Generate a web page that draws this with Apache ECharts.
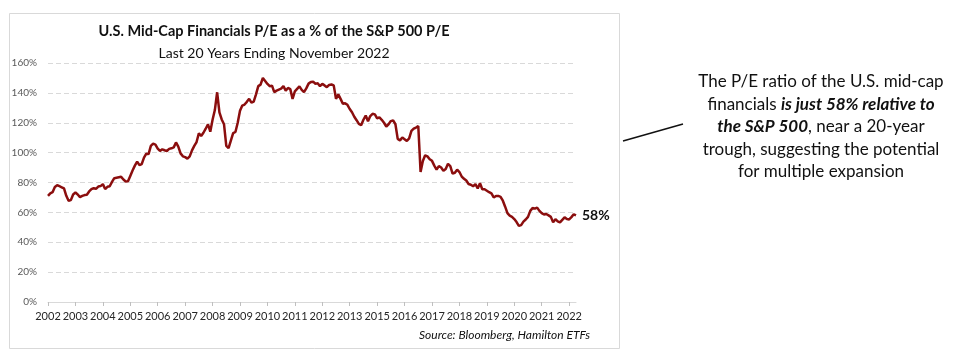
<!DOCTYPE html>
<html>
<head>
<meta charset="utf-8">
<script src="https://cdn.jsdelivr.net/npm/echarts@6/dist/echarts.min.js"></script>
<style>html,body{margin:0;padding:0;background:#fff}#c{width:971px;height:356px}</style>
</head>
<body>
<div id="c"></div>
<script>
// Year labels shown under the x-axis ticks (one tick every 12 monthly points)
const yearLabels = ['2002','2003','2004','2005','2006','2007','2008','2009','2010','2011',
  '2012','2013','2015','2016','2017','2018','2019','2020','2021','2022'];
// Y-axis ticks (percent)
const yTicks = [0, 20, 40, 60, 80, 100, 120, 140, 160];
// Monthly P/E of U.S. mid-cap financials as a % of the S&P 500 P/E
const peRatio = [
  71, 72.7, 73.5, 77, 78.2, 77.5, 76.8, 76, 71.1, 67.8, 68.2, 72,
  73.3, 72, 70.2, 71, 71.6, 71.8, 74, 75.5, 76.2, 75.8, 77.3, 77.6,
  78.9, 75.6, 77.1, 77.5, 80.4, 82.9, 83.2, 83.5, 83.8, 82, 80.7, 80.8,
  84.4, 88, 91.3, 94, 91.6, 92.3, 96.7, 99.3, 99, 104.5, 106, 105.4,
  102.7, 101.1, 102.2, 101.6, 101.1, 102.5, 102.9, 103.5, 106.8, 104, 99.5, 97.5,
  97, 96, 97.5, 101.5, 104.5, 107.1, 113, 111.1, 113.3, 116, 119, 114,
  122, 128.5, 140.4, 127, 122.2, 119, 104.5, 103, 108, 113, 113.8, 120,
  128, 131.5, 132.2, 134, 136, 133.5, 134.2, 139, 144.5, 145.5, 150, 148,
  146, 144.5, 144.8, 140.5, 141.5, 142.2, 142.8, 144.5, 141.5, 143.3, 142.5, 136,
  141, 142.7, 144.4, 142, 140.5, 143, 146.2, 147.3, 147.5, 146, 146.5, 144.5,
  146, 145, 143.8, 145.3, 145.6, 145, 136, 139, 136, 132.7, 133, 132,
  129.2, 127, 124, 121.7, 119.2, 118.4, 122, 124.8, 121, 124.5, 126, 125.6,
  123, 123.6, 122, 120, 117.5, 119, 121.1, 121.6, 119, 109.2, 108.2, 110.2,
  109, 107.8, 109.5, 114.5, 116, 116.8, 117.8, 87, 94.4, 98.2, 97.5, 95.6,
  94.5, 91.3, 88.6, 91, 90, 87.8, 89, 92.5, 91, 86, 86.5, 88.6,
  87, 84, 82.5, 81.3, 79, 78.5, 77.5, 78.9, 76, 79.5, 75.5, 75.5,
  74.5, 73.5, 72.7, 70, 71, 71, 70.4, 67.8, 63.8, 59.5, 57.8, 57,
  55.5, 53.5, 51, 51.5, 53.8, 55.2, 57, 61, 63, 62.5, 63.2, 61,
  59.5, 58.6, 58.9, 58, 57, 53.3, 55.5, 54, 53.3, 55, 56.7, 55.5,
  55.3, 56.8, 58.7, 58
];
const months = peRatio.map((v, i) => i);

const chart = echarts.init(document.getElementById('c'), null, {renderer: 'canvas'});
const FONT = 'Lato';
const richA = {n: {font: '17px ' + FONT, fill: '#111'}, b: {font: 'italic bold 17px ' + FONT, fill: '#111'}};
chart.setOption({
  animation: false,
  backgroundColor: '#fff',
  grid: {left: 48, right: 395, top: 63, bottom: 54, containLabel: false},
  xAxis: {
    type: 'category',
    data: months,
    boundaryGap: false,
    axisLine: {lineStyle: {color: '#d9d9d9', width: 1}},
    axisTick: {show: true, length: 4, interval: (i) => i % 12 === 0, lineStyle: {color: '#bfbfbf'}},
    axisLabel: {
      interval: (i) => i % 12 === 0,
      formatter: (v, i) => yearLabels[i / 12] || '',
      color: '#262626', fontFamily: FONT, fontSize: 11, margin: 9
    },
    splitLine: {show: false}
  },
  yAxis: {
    type: 'value',
    min: yTicks[0], max: yTicks[yTicks.length - 1], interval: 20,
    axisLine: {show: false},
    axisTick: {show: false},
    axisLabel: {formatter: (v) => v + '%', color: '#595959', fontFamily: FONT, fontSize: 10, margin: 11},
    splitLine: {lineStyle: {color: '#d9d9d9', type: [5, 3], width: 1}}
  },
  series: [{
    type: 'line',
    data: peRatio,
    showSymbol: false,
    symbol: 'none',
    lineStyle: {color: '#8b0e0e', width: 2.5},
    endLabel: {
      show: true,
      formatter: (p) => Math.round(p.value) + '%',
      color: '#111', fontFamily: FONT, fontWeight: 'bold', fontSize: 14, distance: 6
    }
  }],
  graphic: [
    {type: 'rect', z: -10, silent: true,
      shape: {x: 9.5, y: 13.5, width: 610, height: 335},
      style: {fill: null, stroke: '#d9d9d9', lineWidth: 1}},
    {type: 'text', x: 274, y: 31, style: {text: 'U.S. Mid-Cap Financials P/E as a % of the S&P 500 P/E',
      font: 'bold 14.5px ' + FONT, fill: '#111', align: 'center', verticalAlign: 'middle'}},
    {type: 'text', x: 274, y: 53, style: {text: 'Last 20 Years Ending November 2022',
      font: '14px ' + FONT, fill: '#111', align: 'center', verticalAlign: 'middle'}},
    {type: 'text', x: 590, y: 335, style: {text: 'Source: Bloomberg, Hamilton ETFs',
      font: 'italic 12px ' + FONT, fill: '#111', align: 'right', verticalAlign: 'middle'}},
    {type: 'line', shape: {x1: 623, y1: 141, x2: 683, y2: 124}, style: {stroke: '#111', lineWidth: 1.5}},
    {type: 'text', x: 821, y: 82, style: {text: 'The P/E ratio of the U.S. mid-cap',
      font: '17px ' + FONT, fill: '#111', align: 'center', verticalAlign: 'middle'}},
    {type: 'text', x: 821, y: 104.5, style: {text: '{n|financials }{b|is just 58% relative to}',
      align: 'center', verticalAlign: 'middle', rich: richA}},
    {type: 'text', x: 821, y: 127, style: {text: '{b|the S&P 500}{n|, near a 20-year}',
      align: 'center', verticalAlign: 'middle', rich: richA}},
    {type: 'text', x: 821, y: 149.5, style: {text: 'trough, suggesting the potential',
      font: '17px ' + FONT, fill: '#111', align: 'center', verticalAlign: 'middle'}},
    {type: 'text', x: 821, y: 172, style: {text: 'for multiple expansion',
      font: '17px ' + FONT, fill: '#111', align: 'center', verticalAlign: 'middle'}}
  ]
});
</script>
</body>
</html>
